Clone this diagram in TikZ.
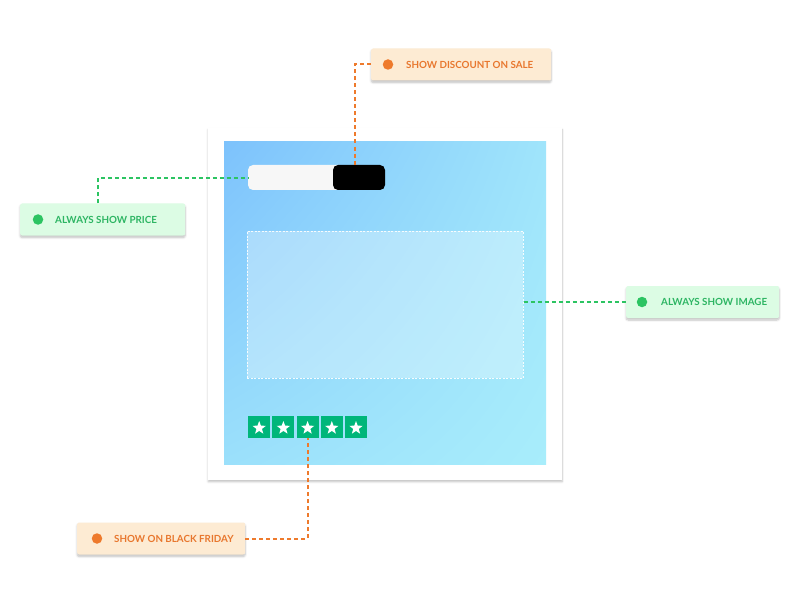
\documentclass[tikz,border=0pt]{standalone}
\usepackage{fontspec}
\setmainfont{Lato}
\usetikzlibrary{shapes.geometric,shadows.blur,calc,shadings}
\definecolor{orgfill}{HTML}{FDEBD3}
\definecolor{orgtext}{HTML}{E8772E}
\definecolor{orgline}{HTML}{EE7A2C}
\definecolor{grnfill}{HTML}{DCFCE4}
\definecolor{grntext}{HTML}{2DB563}
\definecolor{grnline}{HTML}{2CC462}
\definecolor{bluea}{HTML}{7DC2FC}
\definecolor{blueb}{HTML}{A8EDFB}
\definecolor{stargreen}{HTML}{00B67A}
\tikzset{
  tag/.style={rectangle, rounded corners=2bp, minimum height=32bp, anchor=west,
    inner sep=0pt,
    blur shadow={shadow xshift=0pt, shadow yshift=-2bp, shadow blur steps=6, shadow opacity=25}},
  orgtag/.style={tag, fill=orgfill},
  grntag/.style={tag, fill=grnfill},
  tagtext/.style={font=\fontsize{9.8bp}{11bp}\selectfont\bfseries, anchor=west, inner sep=0pt},
  conn/.style={dash pattern=on 4bp off 3bp, line width=2bp},
  starbox/.style={rectangle, fill=stargreen, minimum width=22bp, minimum height=22bp, inner sep=0pt},
  startip/.style={star, star points=5, star point ratio=2.4, fill=white, minimum size=14bp, inner sep=0pt},
  dot/.style={circle, minimum size=10.5bp, inner sep=0pt}
}
\begin{document}
\begin{tikzpicture}[x=1bp,y=-1bp]
\useasboundingbox (0,0) rectangle (800,603);
% card
\node[rectangle, fill=white, minimum width=354bp, minimum height=352bp, anchor=north west, inner sep=0pt,
  blur shadow={shadow xshift=0pt, shadow yshift=-1.5bp, shadow blur steps=6, shadow opacity=25}] (card) at (208,128) {};
% blue panel
\shade[upper left=bluea, upper right=blueb!80!bluea, lower left=blueb!70!bluea, lower right=blueb] (224,142) rectangle (546,464);
% price bar
\fill[white!97!black, rounded corners=5bp] (248,165) rectangle (345,190);
\fill[black, rounded corners=5bp] (333,165) rectangle (385,190);
\fill[white!97!black] (300,165) rectangle (333,190);
\node[inner sep=0pt, minimum width=137bp, minimum height=24bp, anchor=north west] (price) at (248,166) {};
\coordinate (blacktop) at (355,165);
% image placeholder
\node[rectangle, fill=white, fill opacity=0.3, draw=white, draw opacity=0.9, dash pattern=on 2bp off 1.5bp, line width=0.8bp,
  minimum width=276bp, minimum height=147bp, anchor=north west, inner sep=0pt] (img) at (247,231) {};
% stars
\foreach \i in {0,...,4} {
  \node[starbox, anchor=north west] (sb\i) at (248+\i*24.2,416) {};
  \node[startip] at ($(sb\i.center)+(0,0.8)$) {};
}
% tags
\node[orgtag, minimum width=180bp] (sale) at (371,64.5) {};
\node[dot, fill=orgline] (d1) at (388,64.5) {};
\node[tagtext, text=orgtext] (t1) at (406,64.5) {SHOW DISCOUNT ON SALE};

\node[grntag, minimum width=165bp] (priceT) at (20,219.5) {};
\node[dot, fill=grnline] (d2) at (38,219.5) {};
\node[tagtext, text=grntext] (t2) at (55,219.5) {ALWAYS SHOW PRICE};

\node[grntag, minimum width=153bp] (imgT) at (626,302) {};
\node[dot, fill=grnline] (d3) at (642,302) {};
\node[tagtext, text=grntext] (t3) at (661,302) {ALWAYS SHOW IMAGE};

\node[orgtag, minimum width=168bp] (bf) at (77,538.5) {};
\node[dot, fill=orgline] (d4) at (97,538.5) {};
\node[tagtext, text=orgtext] (t4) at (114,538.5) {SHOW ON BLACK FRIDAY};

\coordinate (pv) at (98,0);
\coordinate (sv) at (308,0);
% connectors
\draw[conn, orgline] (sale.west) -| (blacktop);
\draw[conn, grnline] (priceT.north -| pv) |- (price.west);
\draw[conn, grnline] (img.east |- imgT.west) -- (imgT.west);
\draw[conn, orgline] (bf.east) -| (sb2.south -| sv);
\end{tikzpicture}
\end{document}
